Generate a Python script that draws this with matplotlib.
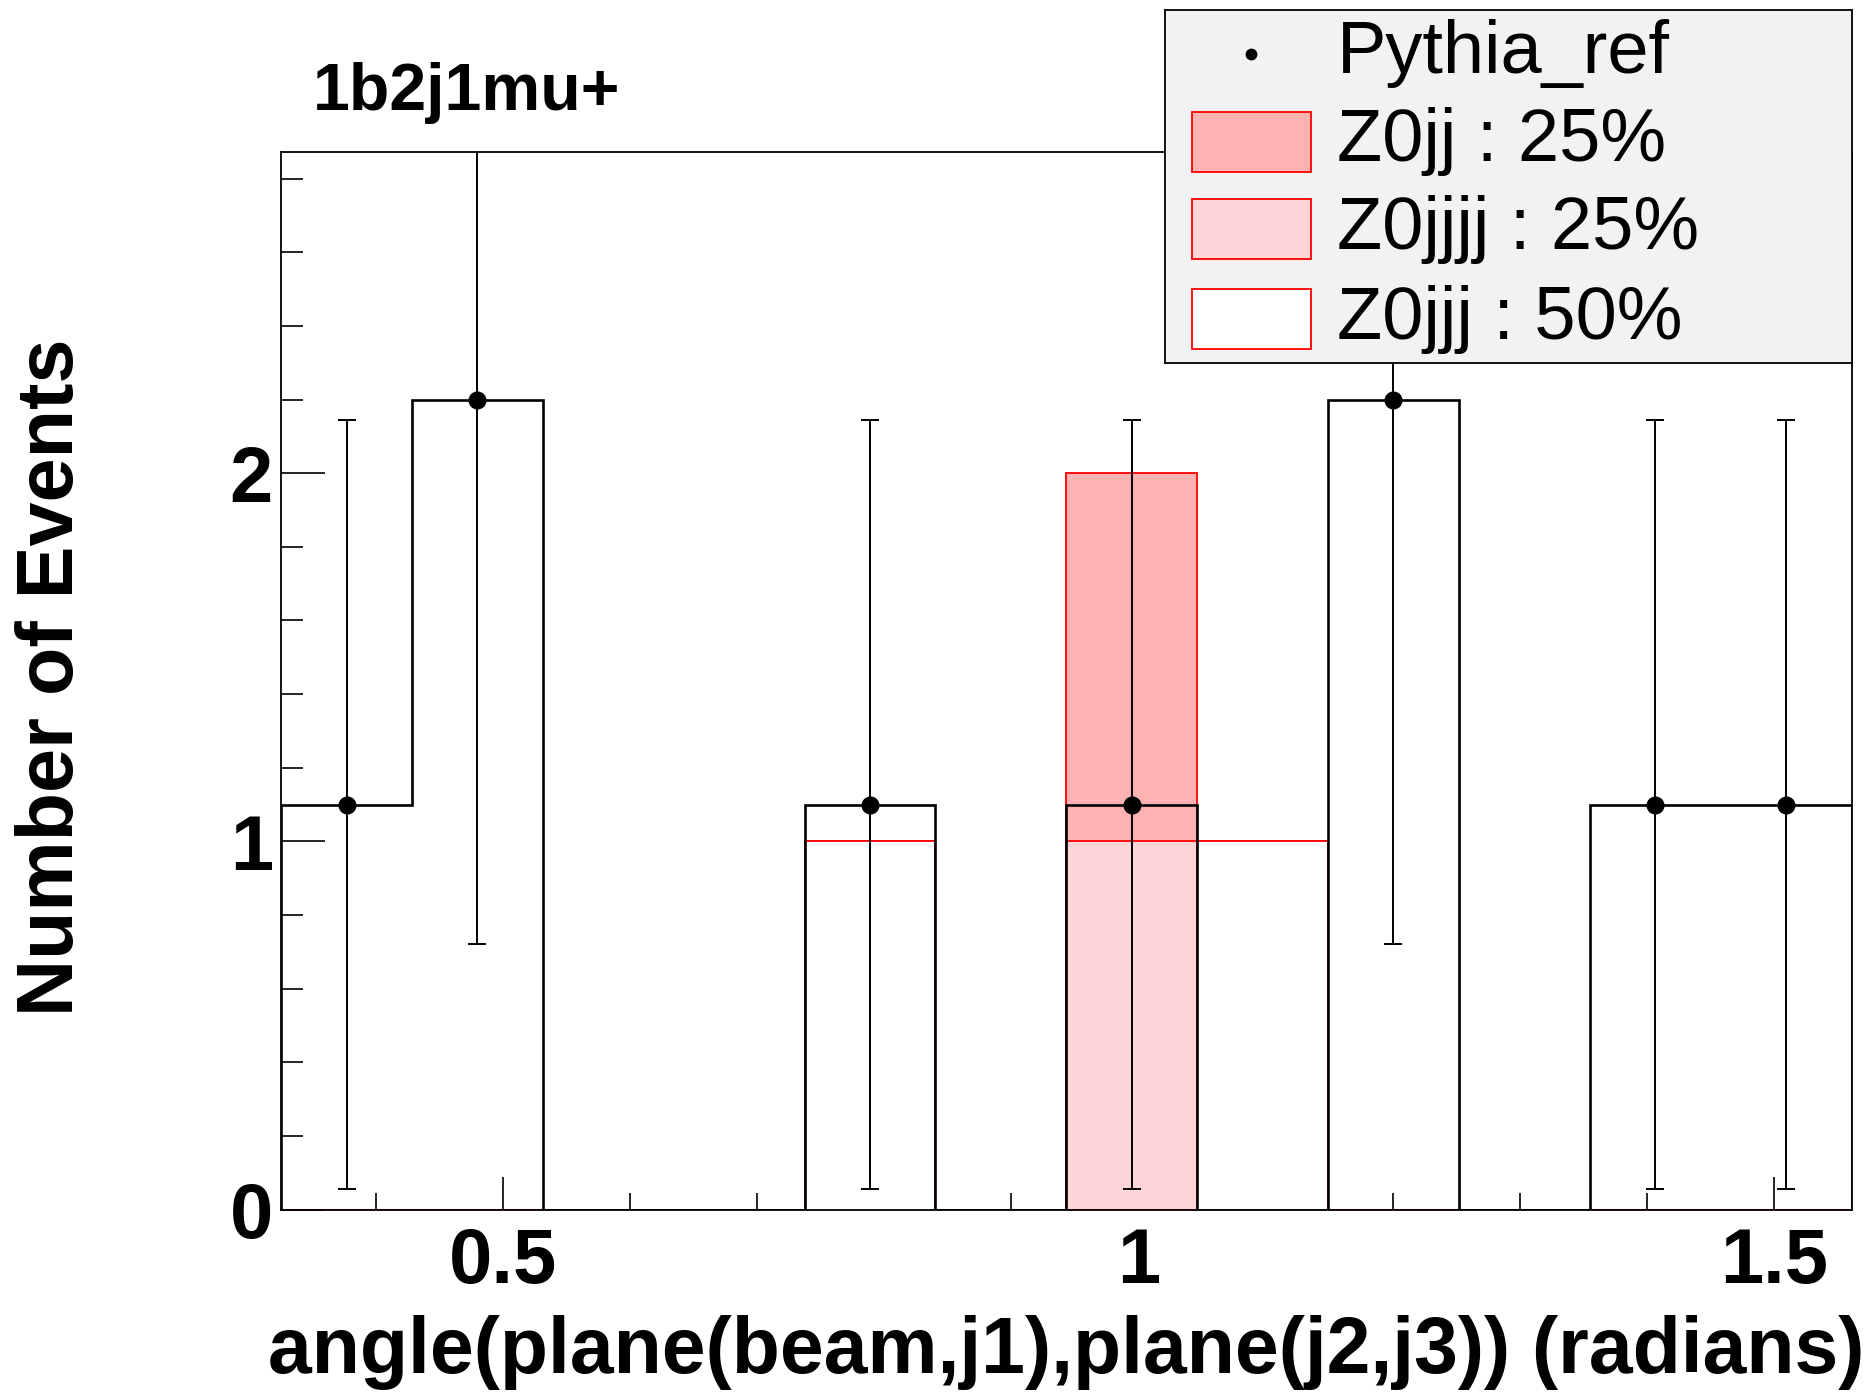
import numpy as np
import matplotlib
matplotlib.use("Agg")
import matplotlib.pyplot as plt
from matplotlib.patches import Rectangle
from matplotlib.ticker import MultipleLocator, FormatStrFormatter

plt.rcParams['font.family'] = ['Liberation Sans', 'DejaVu Sans']

# binning of the histogram (radians)
x_lo, x_hi, n_bins = 0.3252, 1.5611, 12
edges = np.linspace(x_lo, x_hi, n_bins + 1)

# Pythia_ref (normalised counts) and its errors
pythia = [1.1, 2.2, 0, 0, 1.1, 0, 1.1, 0, 2.2, 0, 1.1, 1.1]
pythia_err = [1.045, 1.48, 0, 0, 1.045, 0, 1.045, 0, 1.48, 0, 1.045, 1.045]

# stacked samples, bottom first
z0jjj = [0, 0, 0, 0, 1, 0, 0, 1, 0, 0, 0, 0]
z0jjjj = [0, 0, 0, 0, 0, 0, 1, 0, 0, 0, 0, 0]
z0jj = [0, 0, 0, 0, 0, 0, 1, 0, 0, 0, 0, 0]

stack_labels = ["Z0jjj : 50%", "Z0jjjj : 25%", "Z0jj : 25%"]
stack_colors = ["white", "#ffd6d8", "#ffb2b2"]

fig = plt.figure(figsize=(18.74, 13.94), dpi=100)
ax = fig.add_axes([0.150, 0.1323, 0.838, 0.7588])

# ROOT style: cumulative histograms drawn from the top down
cum = np.cumsum([z0jjj, z0jjjj, z0jj], axis=0)
for i in reversed(range(3)):
    ax.stairs(cum[i], edges, fill=True, facecolor=stack_colors[i],
              edgecolor="red", linewidth=1.3, zorder=2)

ax.stairs(pythia, edges, color="black", linewidth=1.9, zorder=3)

centers = 0.5 * (edges[:-1] + edges[1:])
p = np.array(pythia)
e = np.array(pythia_err)
m = p > 0
ax.errorbar(centers[m], p[m], yerr=e[m], fmt="o", color="black", ms=12,
            elinewidth=1.4, capsize=6.5, capthick=1.4, zorder=4)

ax.set_xlim(x_lo, x_hi)
ax.set_ylim(0, 2.873)

ax.xaxis.set_major_locator(MultipleLocator(0.5))
ax.xaxis.set_minor_locator(MultipleLocator(0.1))
ax.yaxis.set_major_locator(MultipleLocator(1))
ax.yaxis.set_minor_locator(MultipleLocator(0.2))
ax.xaxis.set_major_formatter(FormatStrFormatter("%g"))
ax.yaxis.set_major_formatter(FormatStrFormatter("%g"))
ax.tick_params(axis="x", which="major", direction="in", length=24, width=1.2,
               labelsize=56, pad=12)
ax.tick_params(axis="x", which="minor", direction="in", length=12, width=1.2)
ax.tick_params(axis="y", which="major", direction="in", length=32, width=1.2,
               labelsize=56, pad=6)
ax.tick_params(axis="y", which="minor", direction="in", length=16, width=1.2)
for lab in ax.get_xticklabels() + ax.get_yticklabels():
    lab.set_fontweight("bold")
for s in ax.spines.values():
    s.set_linewidth(1.3)

fig.text(0.995, 0.0300, "angle(plane(beam,j1),plane(j2,j3)) (radians)",
         ha="right", va="center", fontsize=56.7, fontweight="bold")
fig.text(0.028, 0.514, "Number of Events", rotation=90, ha="center",
         va="center", fontsize=57, fontweight="bold")
fig.text(0.167, 0.9335, "1b2j1mu+", ha="left", va="center", fontsize=47.7,
         fontweight="bold")

# legend box, drawn by hand to get ROOT's layout
lg = fig.add_axes([1165 / 1874, 1 - 363 / 1394, 687 / 1874, 353 / 1394],
                  zorder=5)
lg.set_xlim(0, 687)
lg.set_ylim(353, 0)
lg.set_facecolor("#f2f2f2")
lg.set_xticks([])
lg.set_yticks([])
for s in lg.spines.values():
    s.set_linewidth(1.3)

rows = [44, 132, 219, 309]
lg.plot([86], [rows[0]], "o", color="black", ms=7.5)
lg.text(172, rows[0], "Pythia_ref", va="center", ha="left", fontsize=53.3)
for r, i in zip(rows[1:], [2, 1, 0]):
    lg.add_patch(Rectangle((27, r - 30), 119, 60, facecolor=stack_colors[i],
                           edgecolor="red", linewidth=1.3))
    lg.text(172, r, stack_labels[i], va="center", ha="left", fontsize=53.3)

fig.savefig("out.png", dpi=100)
